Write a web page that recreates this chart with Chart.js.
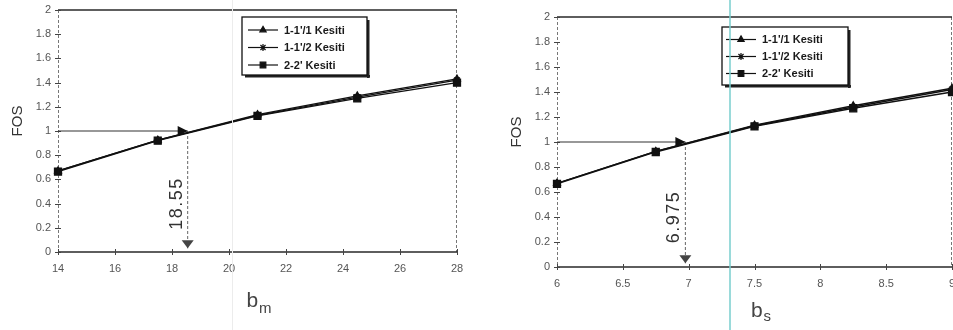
<!DOCTYPE html>
<html>
<head>
<meta charset="utf-8">
<script src="https://cdn.jsdelivr.net/npm/chart.js@4/dist/chart.umd.min.js"></script>
<style>
  html, body { margin: 0; padding: 0; background: #fff; }
  #wrap { position: relative; width: 953px; height: 330px; overflow: hidden; background: #fff; }
  #cLeft { position: absolute; left: 0; top: 0; }
  #cRight { position: absolute; left: 470px; top: 0; }
  .crease { position: absolute; top: 0; height: 330px; pointer-events: none; }
</style>
</head>
<body>
<div id="wrap">
  <canvas id="cLeft" width="470" height="330"></canvas>
  <canvas id="cRight" width="490" height="330"></canvas>
  <div class="crease" style="left:232px;width:1px;background:#ececec"></div>
  <div class="crease" style="left:729px;width:2px;background:rgba(120,205,205,0.75)"></div>
</div>
<script>
// Factor of safety (FOS) of the three sections against the widths b_m and b_s
const seriesLabels = ["1-1'/1 Kesiti", "1-1'/2 Kesiti", "2-2' Kesiti"];
const bmValues = [14, 17.5, 21, 24.5, 28];
const bsValues = [6, 6.75, 7.5, 8.25, 9];
const fos11 = [0.67, 0.925, 1.135, 1.29, 1.43];
const fos12 = [0.67, 0.925, 1.13, 1.28, 1.42];
const fos22 = [0.665, 0.92, 1.125, 1.27, 1.40];

// FOS = 1 is reached at these widths
const targetFos = 1;
const bmAtTarget = 18.55;
const bsAtTarget = 6.975;
const arrowFloor = 0.03;

// tick values
const fosTicks = [0, 0.2, 0.4, 0.6, 0.8, 1, 1.2, 1.4, 1.6, 1.8, 2];
const bmTicks = [14, 16, 18, 20, 22, 24, 26, 28];
const bsTicks = [6, 6.5, 7, 7.5, 8, 8.5, 9];

const INK = '#111';
const FONT = '"Liberation Sans", Arial, sans-serif';

function makeDatasets(xs, xTarget, xStart) {
  const marks = [
    { pointStyle: 'triangle', radius: 4 },
    { pointStyle: 'star', radius: 4 },
    { pointStyle: 'rect', radius: 5 }
  ];
  const sets = [fos11, fos12, fos22].map((ys, i) => ({
    label: seriesLabels[i],
    inLegend: true,
    data: xs.map((x, j) => ({ x: x, y: ys[j] })),
    borderColor: INK,
    backgroundColor: INK,
    borderWidth: 1.3,
    pointStyle: marks[i].pointStyle,
    pointRadius: marks[i].radius,
    pointBorderWidth: 1.2,
    pointBorderColor: INK,
    pointBackgroundColor: INK,
    clip: false
  }));
  // horizontal guide at FOS = 1, ending in an arrow head
  sets.push({
    label: 'guideH',
    data: [{ x: xStart, y: targetFos }, { x: xTarget, y: targetFos }],
    borderColor: '#333', borderWidth: 1.1, pointRadius: 0, clip: false,
    arrowHead: { len: 10, half: 5, color: '#111' }
  });
  // dashed drop line down to the width axis
  sets.push({
    label: 'guideV',
    data: [{ x: xTarget, y: targetFos }, { x: xTarget, y: arrowFloor }],
    borderColor: '#666', borderWidth: 1, borderDash: [3, 2], pointRadius: 0, clip: false,
    arrowHead: { len: 8, half: 6, color: '#444' },
    valueLabel: { text: String(xTarget), y: 0.4, dx: -11 }
  });
  return sets;
}

const framePlugin = {
  id: 'frame',
  beforeDatasetsDraw(chart) {
    const { ctx, chartArea: a, scales } = chart;
    ctx.save();
    ctx.lineCap = 'butt';
    // dotted left axis and right edge
    ctx.setLineDash([3, 2]);
    ctx.strokeStyle = '#777';
    ctx.lineWidth = 1;
    ctx.beginPath();
    ctx.moveTo(a.left + 0.5, a.top); ctx.lineTo(a.left + 0.5, a.bottom);
    ctx.moveTo(a.right - 0.5, a.top); ctx.lineTo(a.right - 0.5, a.bottom);
    ctx.stroke();
    ctx.setLineDash([]);
    // solid top edge and width axis
    ctx.strokeStyle = '#2a2a2a';
    ctx.lineWidth = 1.5;
    ctx.beginPath();
    ctx.moveTo(a.left, a.top); ctx.lineTo(a.right, a.top);
    ctx.moveTo(a.left, a.bottom); ctx.lineTo(a.right, a.bottom);
    ctx.stroke();
    // tick marks crossing both axes
    ctx.strokeStyle = '#444';
    ctx.lineWidth = 1;
    ctx.beginPath();
    scales.y.ticks.forEach(t => {
      const y = Math.round(scales.y.getPixelForValue(t.value)) + 0.5;
      ctx.moveTo(a.left - 3, y); ctx.lineTo(a.left + 3, y);
    });
    scales.x.ticks.forEach(t => {
      const x = Math.round(scales.x.getPixelForValue(t.value)) + 0.5;
      ctx.moveTo(x, a.bottom - 3); ctx.lineTo(x, a.bottom + 3);
    });
    ctx.stroke();
    ctx.restore();
  }
};

const arrowPlugin = {
  id: 'arrows',
  afterDatasetsDraw(chart) {
    const { ctx } = chart;
    chart.data.datasets.forEach((ds, i) => {
      const meta = chart.getDatasetMeta(i);
      const pts = meta.data;
      if (ds.arrowHead && pts.length >= 2) {
        const p1 = pts[pts.length - 2], p2 = pts[pts.length - 1];
        const ang = Math.atan2(p2.y - p1.y, p2.x - p1.x);
        const { len, half, color } = ds.arrowHead;
        ctx.save();
        ctx.translate(p2.x, p2.y);
        ctx.rotate(ang);
        ctx.fillStyle = color;
        ctx.beginPath();
        ctx.moveTo(0, 0);
        ctx.lineTo(-len, -half);
        ctx.lineTo(-len, half);
        ctx.closePath();
        ctx.fill();
        ctx.restore();
      }
      if (ds.valueLabel) {
        const xs = chart.scales.x, ys = chart.scales.y;
        const x = xs.getPixelForValue(ds.data[0].x) + ds.valueLabel.dx;
        const y = ys.getPixelForValue(ds.valueLabel.y);
        ctx.save();
        ctx.translate(x, y);
        ctx.rotate(-Math.PI / 2);
        ctx.font = '18px ' + FONT;
        if ('letterSpacing' in ctx) ctx.letterSpacing = '1.5px';
        ctx.fillStyle = '#333';
        ctx.textAlign = 'center';
        ctx.textBaseline = 'middle';
        ctx.fillText(ds.valueLabel.text, 0, 0);
        ctx.restore();
      }
    });
  }
};

const boxLegendPlugin = {
  id: 'boxLegend',
  afterDraw(chart, args, opts) {
    const { ctx, chartArea: a } = chart;
    const x = a.left + opts.dx, y = a.top + opts.dy, w = opts.w, h = opts.h;
    ctx.save();
    // drop shadow on the right and bottom
    ctx.fillStyle = '#222';
    ctx.fillRect(x + 3, y + h, w, 2.5);
    ctx.fillRect(x + w, y + 3, 2.5, h);
    ctx.fillStyle = '#fff';
    ctx.fillRect(x, y, w, h);
    ctx.strokeStyle = INK;
    ctx.lineWidth = 1.3;
    ctx.strokeRect(x, y, w, h);
    const entries = chart.data.datasets.filter(d => d.inLegend);
    entries.forEach((ds, i) => {
      const ry = y + opts.firstRow + i * opts.rowGap;
      ctx.strokeStyle = INK;
      ctx.fillStyle = INK;
      ctx.lineWidth = 1.2;
      ctx.beginPath();
      ctx.moveTo(x + opts.lineStart, ry);
      ctx.lineTo(x + opts.lineStart + 30, ry);
      ctx.stroke();
      const r = ds.pointStyle === 'rect' ? 4 : 3.6;
      Chart.helpers.drawPoint(ctx, { pointStyle: ds.pointStyle, rotation: 0, radius: r, borderWidth: 1.2 },
        x + opts.lineStart + 15, ry);
      ctx.font = 'bold 11px ' + FONT;
      ctx.fillStyle = '#1a1a1a';
      ctx.textAlign = 'left';
      ctx.textBaseline = 'middle';
      ctx.fillText(ds.label, x + opts.lineStart + 36, ry + 0.5);
    });
    ctx.restore();
  }
};

const axisTitlePlugin = {
  id: 'axisTitles',
  afterDraw(chart, args, opts) {
    const { ctx, chartArea: a } = chart;
    ctx.save();
    // vertical FOS title
    ctx.font = '15px ' + FONT;
    ctx.fillStyle = '#333';
    ctx.textAlign = 'center';
    ctx.textBaseline = 'middle';
    ctx.translate(a.left - 40, (a.top + a.bottom) / 2 - 10);
    ctx.rotate(-Math.PI / 2);
    ctx.fillText(opts.yTitle, 0, 0);
    ctx.restore();

    // width title with subscript
    ctx.save();
    ctx.fillStyle = '#444';
    ctx.textBaseline = 'alphabetic';
    ctx.textAlign = 'left';
    ctx.font = '21px ' + FONT;
    const wMain = ctx.measureText(opts.xMain).width;
    ctx.font = '15px ' + FONT;
    const wSub = ctx.measureText(opts.xSub).width;
    const x0 = (a.left + a.right) / 2 + opts.xShift - (wMain + wSub) / 2;
    const base = a.bottom + opts.drop;
    ctx.font = '21px ' + FONT;
    ctx.fillText(opts.xMain, x0, base);
    ctx.font = '15px ' + FONT;
    ctx.fillText(opts.xSub, x0 + wMain + 1, base + opts.subDrop);
    ctx.restore();
  }
};

function fmt(v) { return String(Math.round(v * 100) / 100); }

function buildChart(id, cfg) {
  const xLast = cfg.xTicks[cfg.xTicks.length - 1];
  return new Chart(document.getElementById(id), {
    type: 'line',
    data: { datasets: makeDatasets(cfg.xs, cfg.xTarget, cfg.xTicks[0]) },
    options: {
      responsive: false,
      animation: false,
      devicePixelRatio: 1,
      events: [],
      layout: { padding: cfg.padding },
      plugins: {
        legend: { display: false },
        tooltip: { enabled: false },
        boxLegend: cfg.legend,
        axisTitles: cfg.titles
      },
      scales: {
        x: {
          type: 'linear',
          min: cfg.xTicks[0],
          max: xLast,
          afterBuildTicks: s => { s.ticks = cfg.xTicks.map(v => ({ value: v })); },
          afterFit: s => { s.height = cfg.xAxisHeight; s.paddingLeft = 0; s.paddingRight = 0; },
          grid: { display: false, drawTicks: false },
          border: { display: false },
          ticks: {
            padding: 10, color: '#555', font: { family: FONT, size: 11 },
            maxRotation: 0, autoSkip: false, callback: v => fmt(v)
          }
        },
        y: {
          type: 'linear',
          min: 0,
          max: 2,
          afterBuildTicks: s => { s.ticks = fosTicks.map(v => ({ value: v })); },
          afterFit: s => { s.width = cfg.yAxisWidth; s.paddingTop = 0; s.paddingBottom = 0; },
          grid: { display: false, drawTicks: false },
          border: { display: false },
          ticks: {
            padding: 7, color: '#555', font: { family: FONT, size: 11 },
            autoSkip: false, callback: v => fmt(v)
          }
        }
      }
    },
    plugins: [framePlugin, arrowPlugin, boxLegendPlugin, axisTitlePlugin]
  });
}

buildChart('cLeft', {
  xs: bmValues, xTarget: bmAtTarget, xTicks: bmTicks,
  padding: { left: 0, top: 10, right: 13, bottom: 0 },
  yAxisWidth: 58, xAxisHeight: 78,
  legend: { dx: 184, dy: 7, w: 125, h: 58, firstRow: 13, rowGap: 17.5, lineStart: 6 },
  titles: { yTitle: 'FOS', xMain: 'b', xSub: 'm', drop: 55, subDrop: 6, xShift: 1 }
});

buildChart('cRight', {
  xs: bsValues, xTarget: bsAtTarget, xTicks: bsTicks,
  padding: { left: 0, top: 17, right: 8, bottom: 0 },
  yAxisWidth: 87, xAxisHeight: 63,
  legend: { dx: 165, dy: 10, w: 126, h: 58, firstRow: 12.5, rowGap: 17, lineStart: 4 },
  titles: { yTitle: 'FOS', xMain: 'b', xSub: 's', drop: 50, subDrop: 4, xShift: 6 }
});
</script>
</body>
</html>
